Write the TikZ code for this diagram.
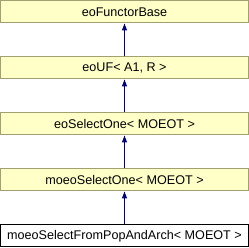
\documentclass[tikz,border=0pt]{standalone}
\usepackage{fontspec}
\setmainfont{Liberation Sans}
\usetikzlibrary{positioning, arrows.meta}

\definecolor{classfill}{RGB}{255,255,200}
\definecolor{classline}{RGB}{160,160,112}
\definecolor{edgeblue}{RGB}{0,0,128}

\begin{document}
\begin{tikzpicture}[x=1pt, y=1pt, node distance=33pt]

		\tikzstyle{classbox} = [rectangle, draw=classline, fill=classfill, line width=1pt, minimum width=248pt, minimum height=22pt, inner sep=0pt, font=\fontsize{12.6}{15}\selectfont]
		\tikzstyle{current} = [classbox, draw=black, fill=white]
		\tikzstyle{inherit} = [-{Triangle[length=7pt, width=5pt]}, draw=edgeblue, line width=1pt]

		\useasboundingbox (0,0) rectangle (249,248);

		% Define nodes
		\node[current] (popandarch) at (124.5,12) {moeoSelectFromPopAndArch< MOEOT >};
		\node[classbox, above=of popandarch] (moeoselectone) {moeoSelectOne< MOEOT >};
		\node[classbox, above=of moeoselectone] (selectone) {eoSelectOne< MOEOT >};
		\node[classbox, above=of selectone] (uf) {eoUF< A1, R >};
		\node[classbox, above=of uf] (functorbase) {eoFunctorBase};

		% Draw arrows
		\draw[inherit] (popandarch) -- (moeoselectone);
		\draw[inherit] (moeoselectone) -- (selectone);
		\draw[inherit] (selectone) -- (uf);
		\draw[inherit] (uf) -- (functorbase);

	\end{tikzpicture}
\end{document}
